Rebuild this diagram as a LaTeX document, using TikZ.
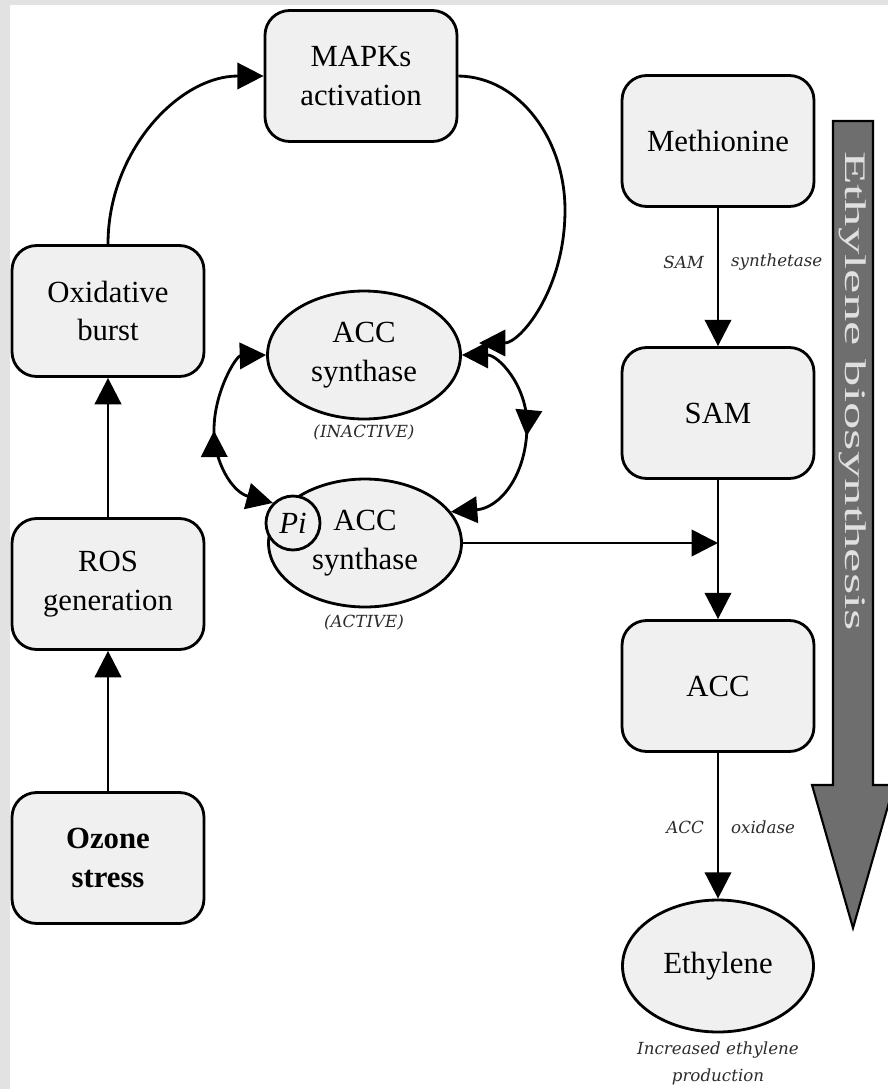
\documentclass[tikz,border=0pt]{standalone}
\usepackage{fontspec}
\setmainfont{Liberation Serif}
\newfontfamily\labelfont{DejaVu Serif}
\usetikzlibrary{arrows.meta,shapes.geometric,decorations.markings}

\definecolor{boxfill}{HTML}{F0F0F0}
\definecolor{framegray}{HTML}{E2E2E2}
\definecolor{bigarrow}{HTML}{6E6E6E}
\definecolor{notegray}{HTML}{2C2C2C}

\begin{document}
\begin{tikzpicture}[x=0.02cm, y=-0.02cm,
  bigtip/.tip={Triangle[length=15pt,width=15pt]},
  stepbox/.style={draw, line width=1.6pt, fill=boxfill, rounded corners=14pt,
    minimum width=3.84cm, minimum height=2.62cm, align=center,
    font=\fontsize{17.5}{22}\selectfont},
  oval/.style={draw, ellipse, line width=1.6pt, fill=boxfill, inner sep=0pt,
    minimum width=3.86cm, minimum height=2.56cm, align=center,
    font=\fontsize{17.5}{22}\selectfont},
  arr/.style={line width=1.6pt, -{bigtip}},
  twoway/.style={line width=1.6pt, {bigtip}-{bigtip}},
  midarrow/.style={postaction={decorate}, decoration={markings,
    mark=at position 0.5 with {\arrow{bigtip}}}},
  note/.style={font=\labelfont\itshape\fontsize{9.5}{15.3}\selectfont, text=notegray, align=center, inner sep=1pt}
]
% page and frame
\useasboundingbox (0,0) rectangle (888,1089);
\fill[white] (0,0) rectangle (888,1089);
\fill[framegray] (0,0) rectangle (10,1089);
\fill[framegray] (0,0) rectangle (888,5);

% signalling side
\node[stepbox] (mapk)  at (361,76)  {MAPKs\\activation};
\node[stepbox] (oxid)  at (108,311) {Oxidative\\burst};
\node[stepbox] (ros)   at (108,584) {ROS\\generation};
\node[stepbox, font=\fontsize{17.5}{22}\selectfont\bfseries] (ozone) at (108,858) {Ozone\\stress};

\node[oval] (inact) at (364,355) {ACC\\synthase};
\node[note] (inactlbl) at (364,432) {(INACTIVE)};
\node[oval] (act) at (365,543) {ACC\\synthase};
\node[note] (actlbl) at (364,622) {(ACTIVE)};
\node[circle, draw, line width=1.6pt, fill=boxfill, minimum size=1.08cm, inner sep=0pt,
  font=\fontsize{17.5}{20}\selectfont\itshape] (pi) at (293,523) {Pi};

% biosynthesis pathway
\node[stepbox] (meth) at (718,141) {Methionine};
\node[stepbox] (sam)  at (718,413) {SAM};
\node[stepbox] (acc)  at (718,686) {ACC};
\node[oval, minimum width=3.82cm, minimum height=2.64cm] (eth) at (718,966) {Ethylene};
\node[note] (ethlbl) at (718,1063) {Increased ethylene\\production};

\node[note, anchor=east] (samenz1) at (706,262) {SAM};
\node[note, anchor=west] (samenz2) at (729,262) {synthetase};
\node[note, anchor=east] (accenz1) at (706,827) {ACC};
\node[note, anchor=west] (accenz2) at (729,827) {oxidase};

% big downward arrow
\draw[line width=1.2pt, fill=bigarrow]
  (833,121) -- (873,121) -- (873,785) -- (894,785) -- (853,928) -- (812,785) -- (833,785) -- cycle;
\node[rotate=-90, text=white!88!black, inner sep=0pt] (biolbl) at (853,391)
  {\resizebox{9.6cm}{\height}{\fontsize{17}{20}\selectfont Ethylene biosynthesis}};

% connectors
\draw[arr] (ozone.north) -- (ros.south);
\draw[arr] (ros.north) -- (oxid.south);
\draw[arr] (oxid.north) .. controls (108,151) and (179,76) .. (mapk.west);
\coordinate (mapkin) at (479,343);
\draw[arr] (mapk.east) .. controls (520,77) and (565,140) .. (565,210)
  .. controls (565,290) and (520,343) .. (mapkin);

\draw[twoway, midarrow] (pi.135) .. controls (232,492) and (214,462) .. (214,430)
  .. controls (214,392) and (236,356) .. (inact.west);
\draw[twoway, midarrow] (inact.east) .. controls (498,355) and (527,385) .. (527,425)
  .. controls (527,475) and (500,508) .. (act.20);

\coordinate (join) at (718,543);
\draw[arr] (act.east) -- (join);
\draw[arr] (meth.south) -- (sam.north);
\draw[arr] (sam.south) -- (acc.north);
\draw[arr] (acc.south) -- (eth.north);
\end{tikzpicture}
\end{document}
